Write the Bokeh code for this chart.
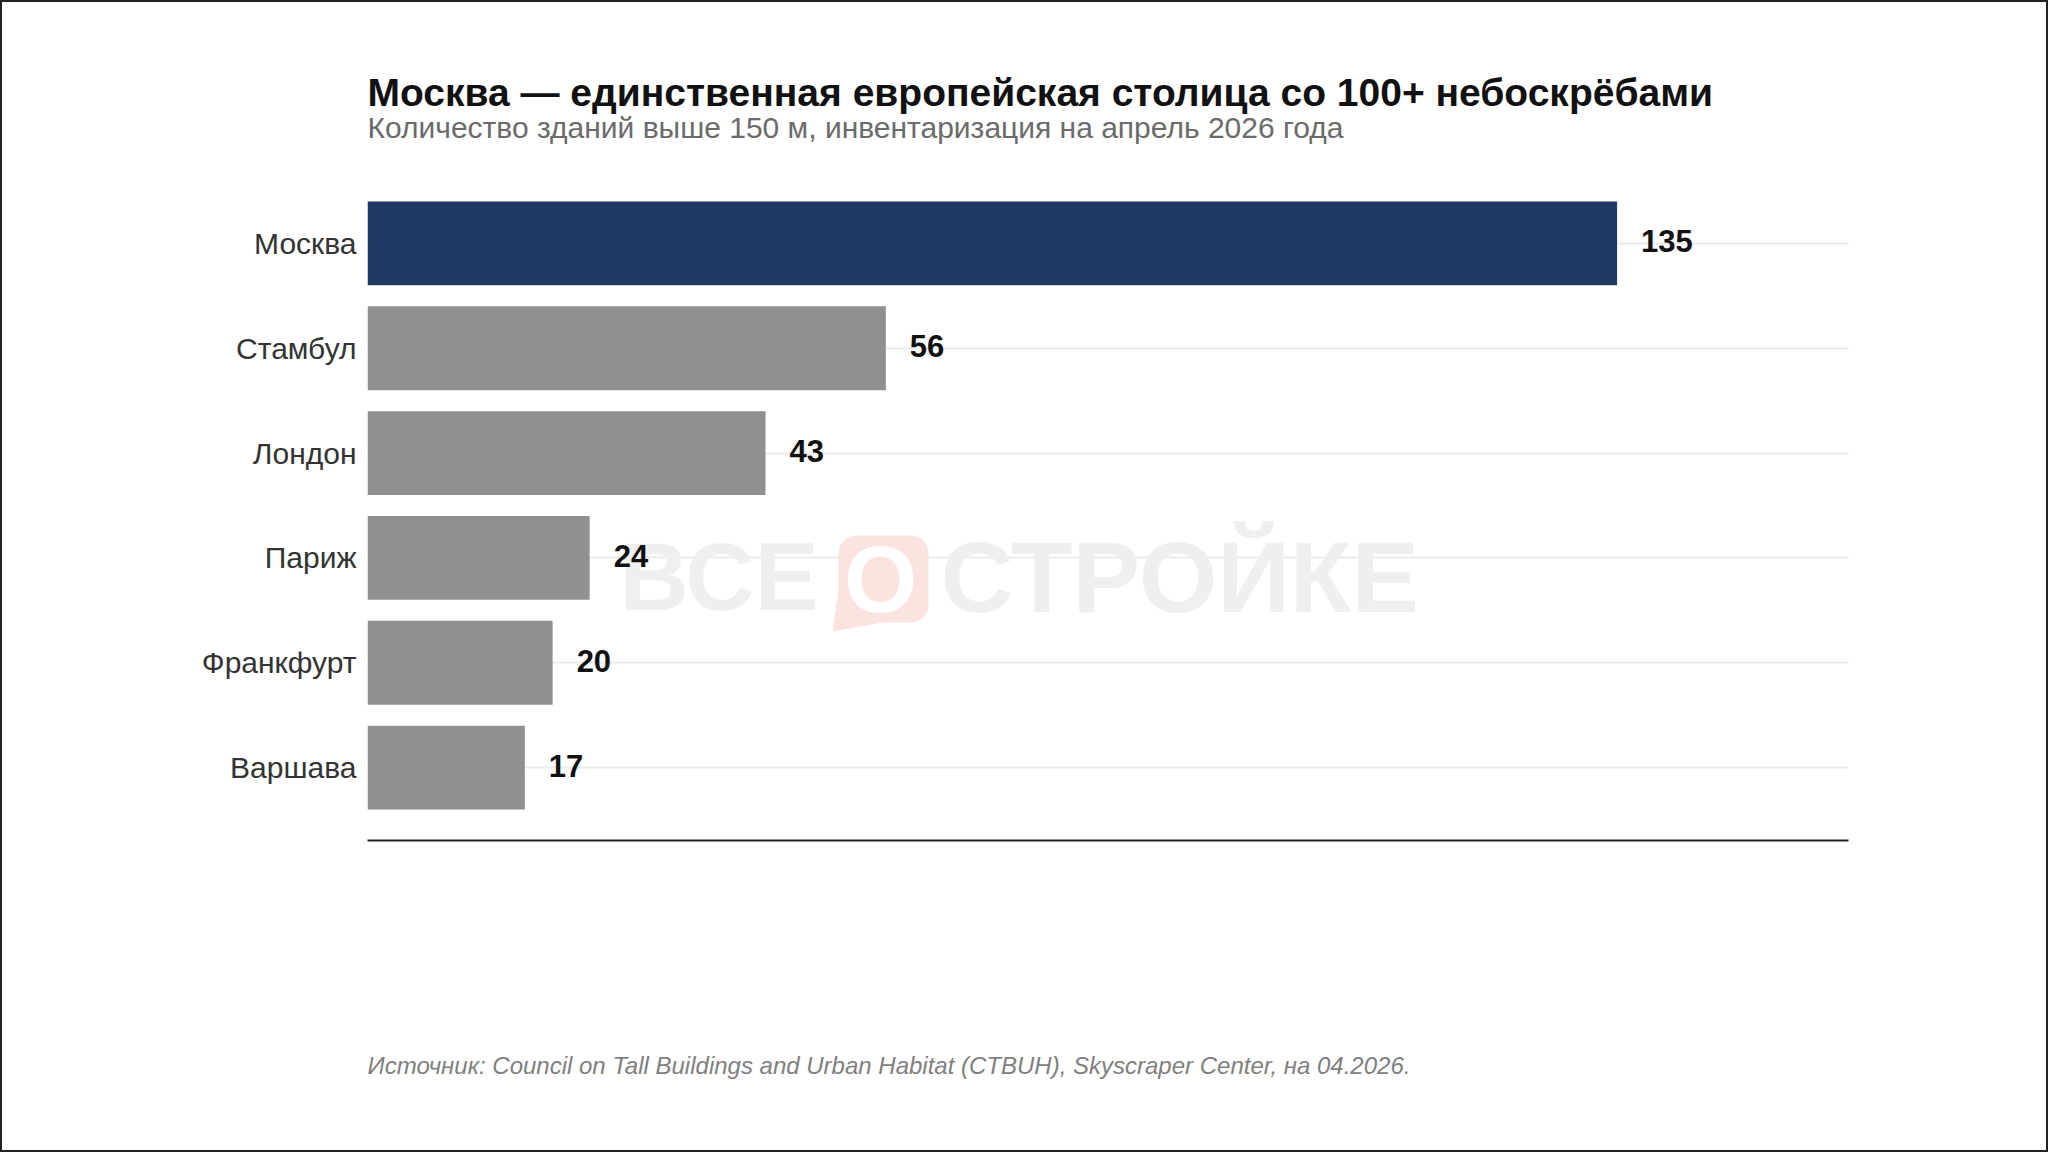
from bokeh.plotting import figure
from bokeh.layouts import column
from bokeh.models import (Range1d, FactorRange, Label, BoxAnnotation, PolyAnnotation,
                          FixedTicker, ColumnDataSource)
from bokeh.core.properties import value
from bokeh.embed import file_html
from bokeh.resources import INLINE

# ---- data ----
cities = ["Москва", "Стамбул", "Лондон", "Париж", "Франкфурт", "Варшава"]
counts = [135, 56, 43, 24, 20, 17]
highlight_city = "Москва"

title_text = "Москва — единственная европейская столица со 100+ небоскрёбами"
subtitle_text = "Количество зданий выше 150 м, инвентаризация на апрель 2026 года"
source_text = ("Источник: Council on Tall Buildings and Urban Habitat (CTBUH), "
               "Skyscraper Center, на 04.2026.")
watermark_left = "ВСЕ"
watermark_mid = "О"
watermark_right = "СТРОЙКЕ"

# ---- styles ----
FONT = "Liberation Sans"
NAVY = "#1f3864"
GRAY = "#909090"
W = 2048
HEAD_H, MAIN_H, FOOT_H = 160, 840, 152
FRAME_LEFT = 367


def blank(h):
    f = figure(width=W, height=h, output_backend="svg", toolbar_location=None,
               x_axis_type=None, y_axis_type=None,
               min_border=0, min_border_left=0, min_border_right=0,
               min_border_top=0, min_border_bottom=0)
    f.outline_line_color = None
    f.xgrid.visible = False
    f.ygrid.visible = False
    f.background_fill_color = None
    f.border_fill_color = None
    return f


# ---- header (its frame is aligned with the chart frame by the column layout) ----
head = blank(HEAD_H)
head.add_layout(Label(x=0, y=HEAD_H - 91.5, x_units="screen", y_units="screen",
                      text=title_text, text_font=FONT, text_font_style="bold",
                      text_font_size="39px", text_color="#111111",
                      text_baseline="middle", text_align="left"))
head.add_layout(Label(x=0, y=HEAD_H - 127, x_units="screen", y_units="screen",
                      text=subtitle_text, text_font=FONT, text_font_size="30px",
                      text_color="#6b6b6b", text_baseline="middle", text_align="left"))

# ---- main chart ----
colors = [NAVY if c == highlight_city else GRAY for c in cities]
src = ColumnDataSource(dict(city=cities, count=counts,
                            label=[str(v) for v in counts], color=colors))

p = figure(width=W, height=MAIN_H, output_backend="svg", toolbar_location=None,
           x_range=Range1d(0, 160),
           y_range=FactorRange(factors=list(reversed(cities)),
                               range_padding=0.195, range_padding_units="absolute"),
           min_border_left=FRAME_LEFT, min_border_right=200,
           min_border_top=10, min_border_bottom=160)
p.outline_line_color = None
p.background_fill_color = None
p.border_fill_color = None

p.xgrid.visible = False
p.ygrid.grid_line_color = "#ebebeb"
p.ygrid.grid_line_width = 2

p.xaxis.ticker = FixedTicker(ticks=[])
p.xaxis.axis_line_color = "#222222"
p.xaxis.axis_line_width = 2
p.xaxis.major_tick_line_color = None
p.xaxis.minor_tick_line_color = None
p.xaxis.major_label_text_font_size = "0px"

p.yaxis.axis_line_color = None
p.yaxis.major_tick_line_color = None
p.yaxis.minor_tick_line_color = None
p.yaxis.major_tick_out = 0
p.yaxis.major_tick_in = 0
p.yaxis.major_label_standoff = 11
p.yaxis.major_label_text_font = FONT
p.yaxis.major_label_text_font_size = "30px"
p.yaxis.major_label_text_color = "#333333"

# watermark (drawn beneath the bars); screen units relative to the frame
LOGO = "#fce3df"
WM = "#efefef"
p.add_layout(BoxAnnotation(left=471, right=561, bottom=218, top=305,
                           left_units="screen", right_units="screen",
                           top_units="screen", bottom_units="screen",
                           fill_color=LOGO, fill_alpha=1.0, line_color=None,
                           border_radius=18, level="underlay"))
p.add_layout(PolyAnnotation(xs=[471, 465, 520, 480], ys=[250, 209, 219, 240],
                            xs_units="screen", ys_units="screen",
                            fill_color=LOGO, fill_alpha=1.0, line_color=None,
                            level="underlay"))
p.add_layout(Label(x=252, y=264, x_units="screen", y_units="screen", text=watermark_left,
                   text_font=FONT, text_font_style="bold", text_font_size="96px",
                   text_color=WM, text_baseline="middle", text_align="left",
                   level="underlay"))
p.add_layout(Label(x=573, y=264, x_units="screen", y_units="screen", text=watermark_right,
                   text_font=FONT, text_font_style="bold", text_font_size="101px",
                   text_color=WM, text_baseline="middle", text_align="left",
                   level="underlay"))
p.add_layout(Label(x=513, y=261, x_units="screen", y_units="screen", text=watermark_mid,
                   text_font=FONT, text_font_style="bold", text_font_size="94px",
                   text_color="white", text_baseline="middle", text_align="center",
                   level="underlay"))

p.hbar(y="city", right="count", left=0, height=0.8, fill_color="color",
       line_color=None, source=src)
p.text(x="count", y="city", text="label", x_offset=24, y_offset=-2,
       text_baseline="middle", text_align="left",
       text_font=value(FONT), text_font_style="bold", text_font_size="31px",
       text_color="#111111", source=src)

# ---- footer ----
foot = blank(FOOT_H)
foot.add_layout(Label(x=0, y=FOOT_H - 64.5, x_units="screen", y_units="screen",
                      text=source_text, text_font=FONT, text_font_style="italic",
                      text_font_size="24px", text_color="#7f7f7f",
                      text_baseline="middle", text_align="left"))

page = column(head, p, foot, spacing=0,
              styles={"outline": "2px solid #222222", "outline-offset": "-2px",
                      "background-color": "white"})

open("out.html", "w").write(file_html(page, INLINE))
